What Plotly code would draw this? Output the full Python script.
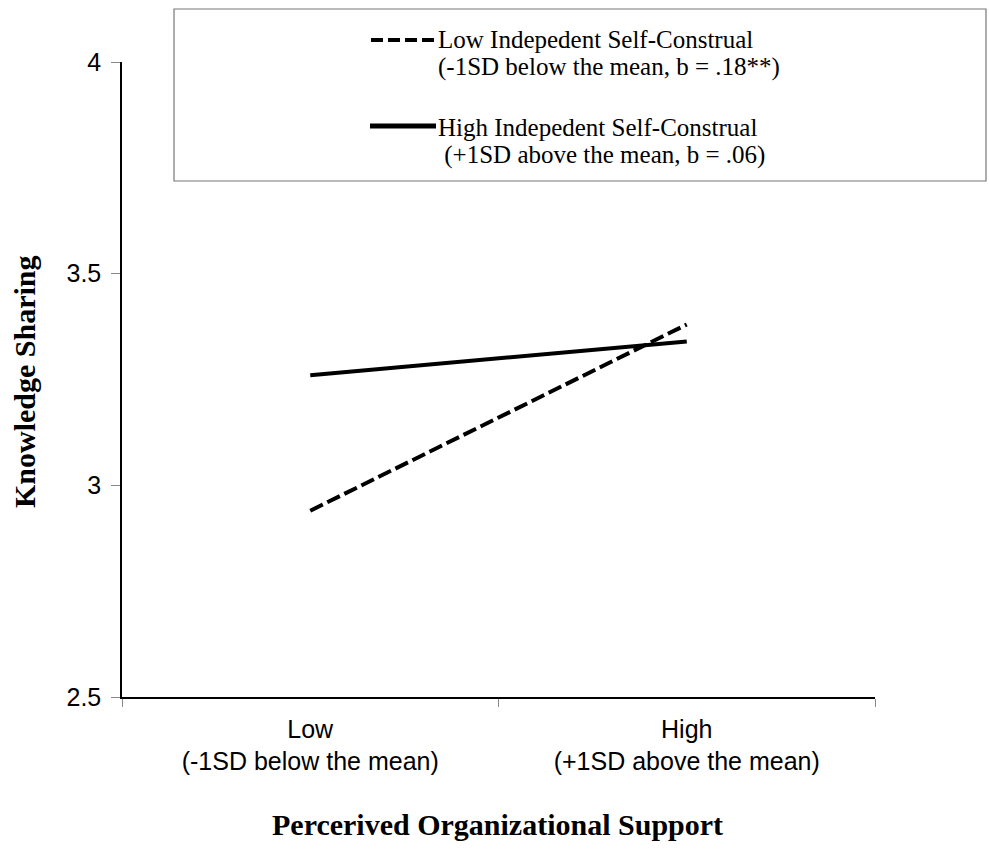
import plotly.graph_objects as go

# ---- data ----
categories = ["Low<br>(-1SD below the mean)", "High<br>(+1SD above the mean)"]
low_isc = [2.94, 3.38]    # Low Independent Self-Construal (dashed)
high_isc = [3.26, 3.34]   # High Independent Self-Construal (solid)
y_ticks = [2.5, 3, 3.5, 4]
y_ticklabels = ["2.5", "3", "3.5", "4"]
legend_line1 = ["Low Indepedent Self-Construal", "High Indepedent Self-Construal"]
legend_line2 = ["(-1SD below the mean, b = .18**)", " (+1SD above the mean, b = .06)"]
x_title = "Percerived Organizational Support"
y_title = "Knowledge Sharing"

W, H = 989, 856
L, R, T, B = 122, 875, 62, 697  # plot area in pixels

def px(x):
    return (x - L) / (R - L)

def py(y):
    return (B - y) / (B - T)

fig = go.Figure()
fig.add_trace(go.Scatter(x=categories, y=low_isc, mode="lines",
                         line=dict(color="black", width=4, dash="14px,5px"),
                         showlegend=False))
fig.add_trace(go.Scatter(x=categories, y=high_isc, mode="lines",
                         line=dict(color="black", width=4),
                         showlegend=False))

serif = "Liberation Serif, Times New Roman, serif"
sans = "Liberation Sans, Arial, sans-serif"

fig.update_layout(
    width=W, height=H,
    margin=dict(l=L, r=W - R, t=T, b=H - B, pad=0),
    paper_bgcolor="white", plot_bgcolor="white",
    showlegend=False,
    xaxis=dict(type="category", range=[-0.5, 1.5], showline=True, linecolor="black",
               linewidth=1.5, ticks="outside", tickson="boundaries", ticklen=8,
               tickcolor="#888", tickwidth=1, showgrid=False, zeroline=False,
               ticklabelstandoff=9,
               tickfont=dict(family=sans, size=25, color="black")),
    yaxis=dict(range=[2.5, 4], tickvals=y_ticks, ticktext=y_ticklabels,
               showline=True, linecolor="black", linewidth=1.5, ticks="outside",
               ticklen=9, tickcolor="#888", tickwidth=1, showgrid=False,
               zeroline=False, ticklabelstandoff=5,
               tickfont=dict(family=sans, size=25, color="black")),
)

shapes = []
annotations = []
# legend box
shapes.append(dict(type="rect", xref="paper", yref="paper",
                   x0=px(174), x1=px(986), y0=py(181), y1=py(9),
                   line=dict(color="#777", width=1.2), fillcolor="white", layer="above"))
# legend samples
shapes.append(dict(type="line", xref="paper", yref="paper",
                   x0=px(371), x1=px(435), y0=py(40), y1=py(40),
                   line=dict(color="black", width=4, dash="12px,5px"), layer="above"))
shapes.append(dict(type="line", xref="paper", yref="paper",
                   x0=px(370), x1=px(436), y0=py(126), y1=py(126),
                   line=dict(color="black", width=5), layer="above"))
leg_y1 = [40, 127]
leg_y2 = [67, 155]
for i in range(2):
    annotations.append(dict(text=legend_line1[i], xref="paper", yref="paper",
                            x=px(436), y=py(leg_y1[i]), xanchor="left", yanchor="middle",
                            showarrow=False, font=dict(family=serif, size=25, color="black")))
    annotations.append(dict(text=legend_line2[i], xref="paper", yref="paper",
                            x=px(436), y=py(leg_y2[i]), xanchor="left", yanchor="middle",
                            showarrow=False, font=dict(family=serif, size=25, color="black")))
# axis titles
annotations.append(dict(text="<b>" + x_title + "</b>", xref="paper", yref="paper",
                        x=px(497), y=py(824), xanchor="center", yanchor="middle",
                        showarrow=False, font=dict(family=serif, size=30, color="black")))
annotations.append(dict(text="<b>" + y_title + "</b>", xref="paper", yref="paper",
                        x=px(24), y=py(382), xanchor="center", yanchor="middle",
                        textangle=-90, showarrow=False,
                        font=dict(family=serif, size=30, color="black")))

fig.update_layout(shapes=shapes, annotations=annotations)
fig.write_html("out.html", config={"displayModeBar": False},
               post_script="document.body.style.margin='0';document.body.style.padding='0';")
